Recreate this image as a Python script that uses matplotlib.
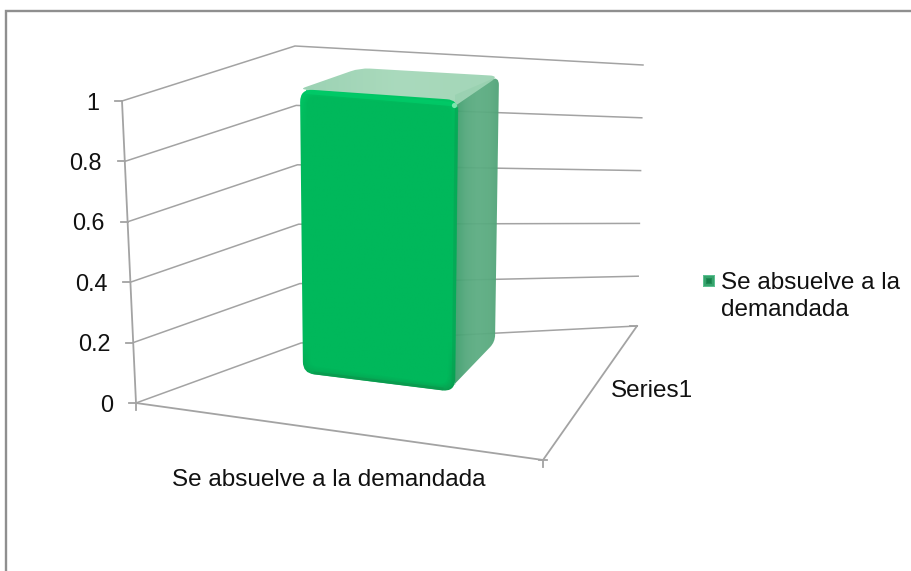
import matplotlib
matplotlib.use('Agg')
import matplotlib.pyplot as plt
from matplotlib.path import Path
from matplotlib.patches import PathPatch, Rectangle
from matplotlib.colors import to_rgb
import numpy as np

# datos
categories = ['Se absuelve a la demandada']
series_names = ['Series1']
values = [1]
y_ticks = [0, 0.2, 0.4, 0.6, 0.8, 1]
y_labels = ['0', '0.2', '0.4', '0.6', '0.8', '1']
legend_lines = ['Se absuelve a la', 'demandada']

plt.rcParams['font.family'] = ['Liberation Sans', 'DejaVu Sans']
GRID = '#a3a3a3'
FRAME = '#8f8f8f'
FACE = '#00b85b'
TEXT = '#111111'

# esquinas de la caja 3D en pixeles: (z=0, z=1)
FL = (np.array([136, 403.]), np.array([122, 101.]))
BL = (np.array([301, 343.]), np.array([295, 46.]))
BR = (np.array([637, 329.]), np.array([643, 65.]))
FR0 = np.array([543, 460.])
FLOOR_BR = np.array([637, 326.])
Y_MAX = max(y_ticks)

# huella de la barra en el suelo y altura por unidad en cada esquina
BAR_FOOT = {'fl': (303, 373), 'fr': (455, 392), 'br': (495, 342), 'bl': (356, 333)}
BAR_RISE = {'fl': (-3, -284), 'fr': (3, -292), 'br': (4, -266), 'bl': (4, -265)}


def wall(corner, z):
    return corner[0] + (corner[1] - corner[0]) * z / Y_MAX


def bar_pt(name, z):
    return np.array(BAR_FOOT[name]) + np.array(BAR_RISE[name]) * z / Y_MAX


def rounded(points, radii):
    pts = [np.array(p, dtype=float) for p in points]
    n = len(pts)
    verts, codes = [], []
    for i in range(n):
        p, prev, nxt = pts[i], pts[i - 1], pts[(i + 1) % n]
        r = radii[i]
        a = p + (prev - p) / np.linalg.norm(prev - p) * r
        b = p + (nxt - p) / np.linalg.norm(nxt - p) * r
        verts += [a, p, b]
        codes += [Path.MOVETO if i == 0 else Path.LINETO, Path.CURVE3, Path.CURVE3]
    verts.append(verts[0])
    codes.append(Path.CLOSEPOLY)
    return Path(verts, codes)


def gradient_fill(ax, path, colors, box, zorder, alpha=1.0, horizontal=True):
    stops = np.array([to_rgb(c) for c in colors])
    t = np.linspace(0, 1, 64)
    ramp = np.stack([np.interp(t, np.linspace(0, 1, len(colors)), stops[:, k]) for k in range(3)], axis=-1)
    img = ramp[np.newaxis, :, :] if horizontal else ramp[:, np.newaxis, :]
    im = ax.imshow(img, extent=box, aspect='auto', zorder=zorder, alpha=alpha, interpolation='bilinear')
    clip = PathPatch(path, transform=ax.transData, fc='none', ec='none')
    ax.add_patch(clip)
    im.set_clip_path(clip)


def mix(c1, c2, t):
    return tuple(np.array(to_rgb(c1)) * (1 - t) + np.array(to_rgb(c2)) * t)


fig = plt.figure(figsize=(9.11, 5.71), dpi=100)
ax = fig.add_axes([0, 0, 1, 1])

# marco
ax.plot([6, 6, 911], [571, 11, 11], color=FRAME, lw=1.7, zorder=1, solid_joinstyle='miter')

# rejilla de las paredes
for z in y_ticks:
    a, b = wall(FL, z), wall(BL, z)
    c = FLOOR_BR if z == 0 else wall(BR, z)
    ax.plot([a[0], b[0], c[0]], [a[1], b[1], c[1]], color=GRID, lw=1.1, zorder=2)
    ax.plot([a[0] - 7, a[0]], [a[1], a[1]], color=GRID, lw=1.3, zorder=2)

# eje vertical y suelo
ax.plot([FL[0][0], FL[1][0]], [FL[0][1], FL[1][1]], color=GRID, lw=1.3, zorder=2)
ax.plot([FL[0][0], FR0[0], FLOOR_BR[0]], [FL[0][1], FR0[1], FLOOR_BR[1]], color=GRID, lw=1.3, zorder=2)
ax.plot([FL[0][0], FL[0][0]], [FL[0][1], FL[0][1] + 7], color=GRID, lw=1.3, zorder=2)
ax.plot([FR0[0], FR0[0]], [FR0[1], FR0[1] + 7], color=GRID, lw=1.3, zorder=2)
ax.plot([FR0[0] - 4, FR0[0] + 4], [FR0[1], FR0[1]], color=GRID, lw=1.3, zorder=2)
ax.plot([FLOOR_BR[0] - 7, FLOOR_BR[0]], [FLOOR_BR[1], FLOOR_BR[1]], color=GRID, lw=1.3, zorder=2)

# barra
h = values[0]
fl0, fr0, br0 = bar_pt('fl', 0), bar_pt('fr', 0), bar_pt('br', 0)
fl1, fr1, br1, bl1 = bar_pt('fl', h), bar_pt('fr', h), bar_pt('br', h), bar_pt('bl', h)

side = rounded([fr1 + [-8, -3], br1, br0, fr0 + [-8, 0]], [2, 9, 7, 4])
gradient_fill(ax, side, ['#3f9f6e', '#55a97d', '#5dad83', '#5aab80', '#4fa377'],
              (fr1[0] - 3, br1[0] + 1, 400, 60), 3, alpha=0.95)
top = rounded([fl1, bl1, br1, fr1 + [-3, 6]], [6, 10, 9, 2])
gradient_fill(ax, top, ['#96d0af', '#a6d8ba', '#9cd3b3'],
              (fl1[0], br1[0] + 2, 110, 60), 4, alpha=0.95)

# frente con bisel suave: capas cada vez mas cerca del color de la cara
steps = 7
for i in range(steps):
    d = i * 1.2
    t = i / (steps - 1)
    pts = [fl1 + [d, d], fr1 + [-d, d], fr0 + [-d, -d], fl0 + [d, -d]]
    path = rounded(pts, [13 - d * 0.5, 11 - d * 0.5, 13 - d * 0.5, 11 - d * 0.5])
    colors = [mix('#00c967', FACE, t), FACE, FACE, FACE, FACE, FACE, mix('#0c9a4e', FACE, t)]
    gradient_fill(ax, path, colors, (295, 462, 398, 84), 5 + i * 0.01, horizontal=False)
ax.plot([fr1[0] - 1.5, fr0[0] - 1.5], [fr1[1] + 9, fr0[1] - 9], color='#08a052', lw=2.5, alpha=0.55, zorder=6)
ax.plot([fl1[0] + 8, fr1[0] - 6], [fl1[1] + 3, fr1[1] + 4], color='#00cb68', lw=3, alpha=0.8, zorder=6)
ax.plot([fl0[0] + 12, fr0[0] - 13], [fl0[1] + 0.0, fr0[1] - 3.2], color='#0a9a4e', lw=2.0, alpha=0.8, zorder=6)
ax.scatter([fr1[0] - 4], [fr1[1] + 5], s=14, color='#7be6ad', linewidths=0, zorder=7)

# etiquetas del eje de valores
for z, lab in zip(y_ticks, y_labels):
    a = wall(FL, z)
    ax.text(a[0] - 23, a[1] + 2, lab, ha='right', va='center', fontsize=16.8, color=TEXT, zorder=8)

ax.text(329, 480, categories[0], ha='center', va='center', fontsize=17.5, color=TEXT)
ax.text(652, 391, series_names[0], ha='center', va='center', fontsize=17.5, color=TEXT)

# leyenda
for i, col in enumerate(['#5cc091', '#36a36c', '#1f8b54', '#15804a']):
    ax.add_patch(Rectangle((703 + i * 1.4, 275 + i * 1.4), 12 - i * 2.8, 12 - i * 2.8,
                           fc=col, ec='none', zorder=8 + i * 0.01))
ax.text(721, 283, legend_lines[0], ha='left', va='center', fontsize=17.5, color=TEXT)
ax.text(721, 310, legend_lines[1], ha='left', va='center', fontsize=17.5, color=TEXT)

ax.set_xlim(0, 911)
ax.set_ylim(571, 0)
ax.axis('off')
fig.savefig('out.png', dpi=100, facecolor='white')
